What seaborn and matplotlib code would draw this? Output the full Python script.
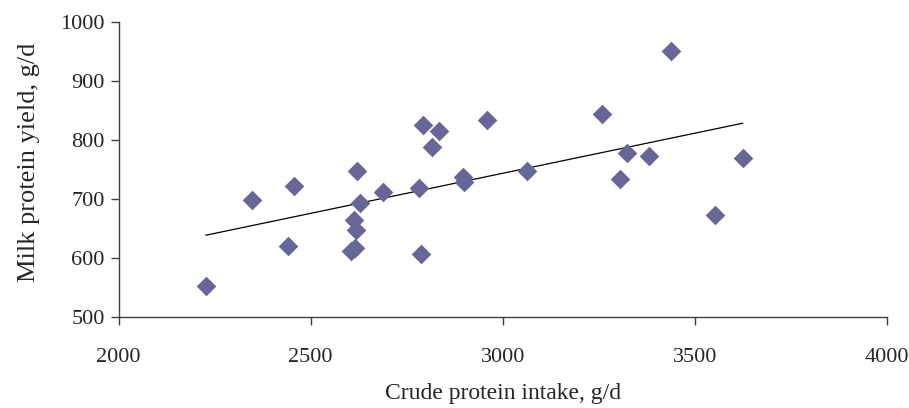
import pandas as pd
import seaborn as sns
import matplotlib.pyplot as plt

# crude protein intake (g/d) vs milk protein yield (g/d)
cpIntake = [2227, 2347, 2457, 2441, 2621, 2629, 2612, 2619, 2605, 2615,
            2688, 2781, 2792, 2835, 2816, 2788, 2896, 2900, 2958, 3062,
            3259, 3324, 3381, 3304, 3439, 3552, 3625]
milkProtein = [553, 698, 722, 621, 747, 693, 664, 647, 612, 617,
               712, 719, 825, 815, 788, 606, 737, 729, 834, 748,
               844, 778, 772, 734, 950, 672, 769]

df = pd.DataFrame({"cp": cpIntake, "mp": milkProtein})

sns.set_style("white")
plt.rcParams['font.family'] = ['Liberation Serif', 'DejaVu Serif']

fig = plt.figure(figsize=(9.09, 4.08), dpi=100)
ax = fig.add_axes([0.1304, 0.223, 0.8453, 0.7238])

sns.regplot(data=df, x="cp", y="mp", ax=ax, ci=None, marker="D",
            scatter_kws={"s": 100, "color": "#666699", "linewidths": 0, "alpha": 1, "zorder": 3},
            line_kws={"color": "black", "linewidth": 0.9, "zorder": 2})

ax.set_xlim(2000, 4000)
ax.set_ylim(500, 1000)
ax.set_xticks([2000, 2500, 3000, 3500, 4000])
ax.set_yticks([500, 600, 700, 800, 900, 1000])

for s in ["top", "right"]:
    ax.spines[s].set_visible(False)
for s in ["left", "bottom"]:
    ax.spines[s].set_color("#404040")
    ax.spines[s].set_linewidth(1.0)

ax.tick_params(axis="both", direction="out", length=6, width=1, color="#404040",
               labelsize=16, left=True, bottom=True)
ax.tick_params(axis="x", pad=16)
ax.tick_params(axis="y", pad=4)

ax.set_xlabel("Crude protein intake, g/d", fontsize=17, labelpad=12)
ax.set_ylabel("Milk protein yield, g/d", fontsize=19)
ax.yaxis.set_label_coords(-0.102, 0.525)

fig.savefig("out.png", dpi=100)
